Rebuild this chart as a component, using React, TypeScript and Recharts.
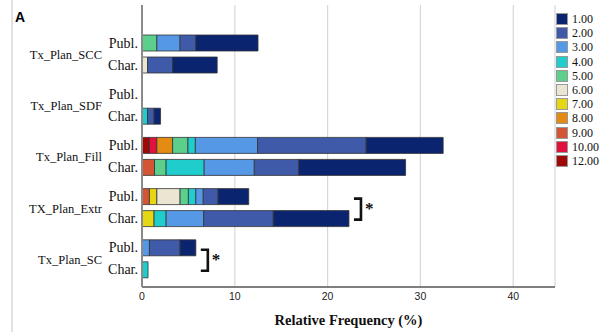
import React from 'react';
import { BarChart, Bar, XAxis, YAxis, CartesianGrid, LabelList } from 'recharts';

const groups = ['Tx_Plan_SCC', 'Tx_Plan_SDF', 'Tx_Plan_Fill', 'TX_Plan_Extr', 'Tx_Plan_SC'];
const levelLabels = ['1.00', '2.00', '3.00', '4.00', '5.00', '6.00', '7.00', '8.00', '9.00', '10.00', '12.00'];
const levelKeys = ['1', '2', '3', '4', '5', '6', '7', '8', '9', '10', '12'];
const levelColors = ['#0b2470', '#3f5aa8', '#5599e6', '#1fcdcd', '#5ccf8d', '#ebe6d2', '#e6d714', '#e38b12', '#d45534', '#e0103f', '#a00808'];

// values per row, in level order 1.00 ... 12.00
const sccPubl = [6.7, 1.7, 2.5, 0, 1.6, 0, 0, 0, 0, 0, 0];
const sccChar = [4.8, 2.7, 0, 0, 0, 0.6, 0, 0, 0, 0, 0];
const sdfPubl = [0, 0, 0, 0, 0, 0, 0, 0, 0, 0, 0];
const sdfChar = [0.7, 0.7, 0, 0.6, 0, 0, 0, 0, 0, 0, 0];
const fillPubl = [8.3, 11.7, 6.7, 0.8, 1.65, 0, 0, 1.7, 0, 0.8, 0.8];
const fillChar = [11.5, 4.8, 5.4, 4.1, 1.25, 0, 0, 0, 1.35, 0, 0];
const extrPubl = [3.3, 1.6, 0.8, 0.8, 0.9, 2.5, 0.8, 0, 0.8, 0, 0];
const extrChar = [8.15, 7.5, 4.05, 1.3, 0, 0, 1.3, 0, 0, 0, 0];
const scPubl = [1.7, 3.3, 0.8, 0, 0, 0, 0, 0, 0, 0, 0];
const scChar = [0, 0, 0, 0.65, 0, 0, 0, 0, 0, 0, 0];

const publRows = [sccPubl, sdfPubl, fillPubl, extrPubl, scPubl];
const charRows = [sccChar, sdfChar, fillChar, extrChar, scChar];
const significant = [false, false, false, true, true];

const xTicks = [0, 10, 20, 30, 40];

const BAR = 16;
const GAP = 6;
const serif = '"Liberation Serif", "Times New Roman", serif';

const data = groups.map((g, gi) => {
  const row: Record<string, any> = { group: g };
  levelKeys.forEach((k, li) => {
    row['p' + k] = publRows[gi][li];
    row['c' + k] = charRows[gi][li];
  });
  return row;
});

// stacking goes 12.00 at the left to 1.00 at the right
const stackOrder = levelKeys.map((_, i) => i).reverse();

const sum = (a: number[]) => a.reduce((s, v) => s + v, 0);

function GroupTick(props: any) {
  const { x, y, payload } = props;
  return (
    <g fontFamily={serif} fill="#111">
      <text x={x} y={y - GAP / 2 - BAR / 2} dy="0.35em" textAnchor="end" fontSize={14}>Publ.</text>
      <text x={x} y={y + GAP / 2 + BAR / 2} dy="0.35em" textAnchor="end" fontSize={14}>Char.</text>
      <text x={x - 36} y={y + 1} dy="0.35em" textAnchor="end" fontSize={12.5}>{payload.value}</text>
    </g>
  );
}

// bracket + asterisk, drawn from the right-most Char segment of a significant row
const bracketFor = (li: number) => (props: any) => {
  const vb = props.viewBox || props;
  const { x, y, width, height } = vb;
  const row = groups.indexOf(props.value);
  if (row < 0 || !significant[row]) return null;
  const chars = charRows[row];
  const lastIdx = chars.findIndex((v) => v > 0);
  if (lastIdx !== li || !(width > 0)) return null;
  const pxPer = width / chars[li];
  const charEnd = x + width;
  const start = charEnd - sum(chars) * pxPer;
  const publEnd = start + sum(publRows[row]) * pxPer;
  const right = Math.max(charEnd, publEnd);
  const xl = right + 5;
  const xv = xl + 7;
  const charMid = y + height / 2;
  const yTop = charMid - BAR - GAP + 2;
  const yBot = charMid + 1;
  return (
    <g>
      <path d={`M${xl},${yTop} H${xv} V${yBot} H${xl}`} fill="none" stroke="#111" strokeWidth={2.6} />
      <text x={xv + 4} y={yTop + 15} fontSize={17} fontWeight="bold" fontFamily={serif} fill="#111">*</text>
    </g>
  );
};

function LevelLegend() {
  return (
    <div style={{ position: 'absolute', left: 556, top: 12, fontFamily: serif, fontSize: 12, color: '#111', lineHeight: '14.2px' }}>
      {levelLabels.map((l, i) => (
        <div key={l} style={{ display: 'flex', alignItems: 'center', height: 14.2 }}>
          <span style={{ width: 10, height: 10, background: levelColors[i], border: '1px solid #999', marginRight: 4 }} />
          <span>{l}</span>
        </div>
      ))}
    </div>
  );
}

export default function App() {
  return (
    <div style={{ position: 'absolute', left: 0, top: 0, width: 605, height: 332, background: '#fff' }}>
      <div style={{ position: 'absolute', left: 11, top: 0, width: 2, height: 332, background: '#e2e2e2' }} />
      <div style={{ position: 'absolute', left: 15, top: 9, fontFamily: '"Liberation Sans", Arial, sans-serif', fontWeight: 'bold', fontSize: 14 }}>A</div>
      <BarChart
        width={605}
        height={332}
        data={data}
        layout="vertical"
        margin={{ top: 5, right: 50, bottom: 20, left: 12 }}
        barSize={BAR}
        barGap={GAP}
      >
        <CartesianGrid horizontal={false} stroke="#d8d8d8" strokeWidth={1.2} />
        <XAxis
          type="number"
          domain={[0, 44.5]}
          ticks={xTicks}
          allowDataOverflow
          tickSize={0}
          tickMargin={6}
          height={25}
          tick={{ fontSize: 10.5, fill: '#222', fontFamily: '"Liberation Sans", Arial, sans-serif' }}
          axisLine={{ stroke: '#555', strokeWidth: 1.5 }}
          label={{ value: 'Relative Frequency (%)', position: 'bottom', offset: 3, fontSize: 14.5, fontWeight: 'bold', fontFamily: serif, fill: '#111' }}
        />
        <YAxis
          type="category"
          dataKey="group"
          width={130}
          tickSize={0}
          tickMargin={4}
          interval={0}
          padding={{ top: 23, bottom: 3 }}
          axisLine={{ stroke: '#8a8a8a', strokeWidth: 2 }}
          tick={<GroupTick />}
        />
        {stackOrder.map((li) => (
          <Bar
            key={'p' + levelKeys[li]}
            dataKey={'p' + levelKeys[li]}
            stackId="publ"
            fill={levelColors[li]}
            stroke="#333"
            strokeWidth={0.8}
            isAnimationActive={false}
          />
        ))}
        {stackOrder.map((li) => (
          <Bar
            key={'c' + levelKeys[li]}
            dataKey={'c' + levelKeys[li]}
            stackId="char"
            fill={levelColors[li]}
            stroke="#333"
            strokeWidth={0.8}
            isAnimationActive={false}
          >
            <LabelList dataKey="group" content={bracketFor(li)} />
          </Bar>
        ))}
      </BarChart>
      <LevelLegend />
    </div>
  );
}
